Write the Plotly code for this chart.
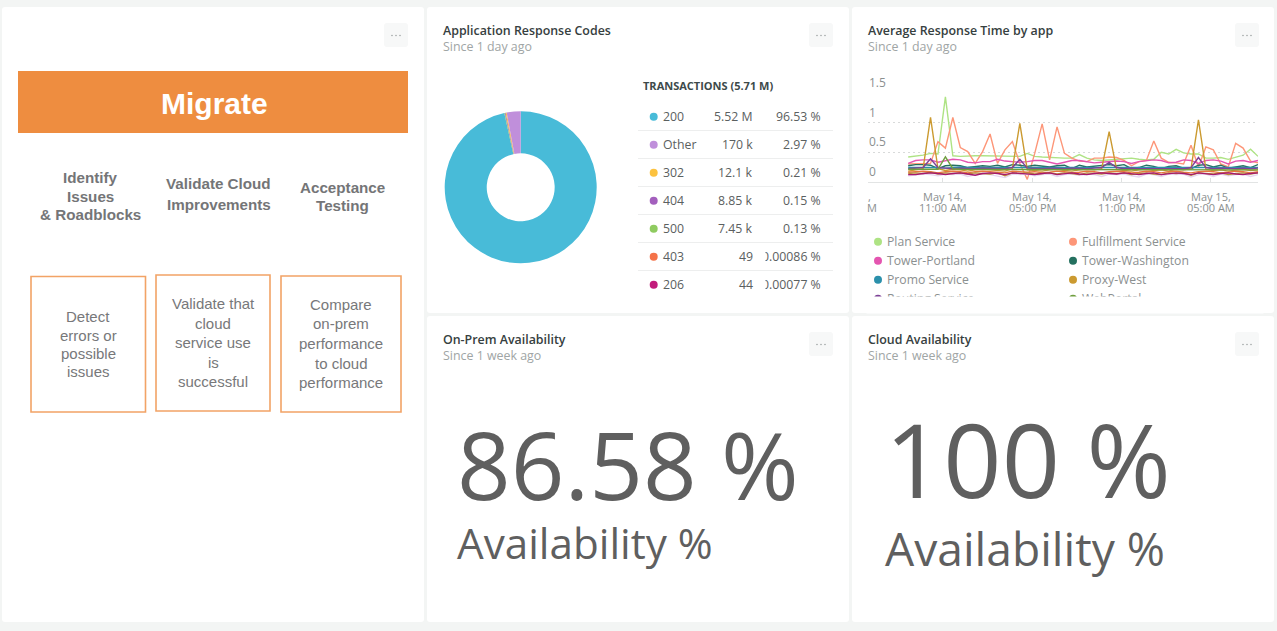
import pandas as pd
import plotly.graph_objects as go

W, H = 1277, 631
PAGE = "#f3f5f4"
FONT = "Open Sans"
HELV = "Liberation Sans"

# ---- donut / table data
code_labels = ["200", "Other", "302", "404", "500", "403", "206"]
code_values = [5520000, 170000, 12100, 8850, 7450, 49, 44]
code_value_text = ["5.52 M", "170 k", "12.1 k", "8.85 k", "7.45 k", "49", "44"]
code_pct_text = ["96.53 %", "2.97 %", "0.21 %", "0.15 %", "0.13 %", "0.00086 %", "0.00077 %"]
code_colors = ["#48bbd8", "#c08fdb", "#fcc23f", "#a35fbd", "#8fcb60", "#f47249", "#c21c7b"]
pie_sequence = ["200", "206", "403", "500", "404", "302", "Other"]

# ---- line chart data
start_time = "2019-05-14 08:40"
n_points = 48
times = pd.date_range(start_time, periods=n_points, freq="30min")
tick_times = ["2019-05-14 11:00", "2019-05-14 17:00", "2019-05-14 23:00", "2019-05-15 05:00"]
tick_line1 = ["May 14,", "May 14,", "May 14,", "May 15,"]
tick_line2 = ["11:00 AM", "05:00 PM", "11:00 PM", "05:00 AM"]

plan = [.42,.43,.45,.48,.47,1.44,.44,.43,.44,.44,.44,.44,.43,.43,.43,.43,.48,.43,.42,.41,.41,.40,.40,.46,
        .40,.37,.36,.37,.38,.39,.40,.38,.37,.38,.50,.47,.55,.49,.47,.47,.40,.40,.41,.38,.41,.45,.55,.43]
fulfillment = [.30,.30,.30,.31,.68,.57,1.09,.58,.51,.31,.51,.81,.31,.54,.68,.31,.04,.48,.98,.37,.93,.48,.40,.35,
               .34,.40,.40,.42,.41,.36,.27,.34,.36,.69,.40,.33,.32,.30,.62,.25,.59,.54,.30,.25,.65,.57,.35,.32]
portland = [.31,.36,.37,.37,.33,.36,.38,.37,.33,.32,.34,.34,.38,.35,.34,.33,.34,.36,.36,.33,.30,.33,.36,.36,
            .34,.32,.33,.34,.35,.34,.31,.34,.35,.37,.36,.32,.33,.37,.36,.31,.36,.37,.35,.30,.35,.36,.33,.36]
washington = [.27,.29,.29,.28,.22,.27,.28,.27,.24,.25,.27,.26,.28,.25,.29,.28,.26,.28,.27,.25,.27,.28,.22,.28,
              .25,.26,.28,.29,.27,.29,.22,.24,.28,.26,.22,.26,.27,.23,.22,.28,.29,.25,.28,.23,.25,.27,.24,.29]
promo = [.24,.24,.25,.24,.24,.23,.24,.25,.24,.24,.23,.24,.24,.23,.24,.24,.23,.24,.23,.24,.24,.23,.24,.24,
         .23,.24,.23,.24,.24,.23,.24,.24,.23,.24,.24,.23,.24,.23,.24,.24,.23,.24,.24,.23,.24,.23,.24,.24]
proxy = [.18,.20,.22,1.09,.22,.19,.21,.20,.18,.20,.21,.20,.19,.18,.22,.99,.20,.19,.18,.20,.21,.19,.18,.20,
         .21,.20,.22,.85,.21,.19,.18,.20,.21,.19,.20,.18,.21,.20,.22,1.05,.21,.19,.20,.18,.20,.21,.19,.20]
routing = [.22,.23,.24,.39,.24,.23,.22,.23,.22,.22,.23,.23,.22,.22,.24,.38,.23,.22,.22,.23,.22,.22,.23,.22,
           .22,.23,.24,.33,.24,.22,.23,.22,.22,.23,.22,.22,.23,.22,.24,.41,.24,.22,.23,.22,.22,.23,.22,.23]
webportal = [.21,.21,.21,.20,.21,.42,.22,.21,.21,.20,.21,.21,.20,.21,.21,.20,.21,.20,.21,.21,.20,.21,.21,.20,
             .21,.20,.21,.21,.20,.21,.21,.20,.21,.21,.20,.21,.20,.21,.21,.20,.21,.21,.20,.21,.20,.21,.21,.20]
extra_orange = [.16,.17,.18,.17,.15,.17,.18,.17,.15,.17,.18,.17,.16,.15,.18,.17,.16,.17,.15,.16,.18,.17,.15,.16,
                .18,.17,.15,.17,.18,.17,.15,.16,.18,.17,.15,.17,.18,.16,.15,.17,.18,.17,.15,.16,.18,.17,.15,.17]
extra_tan = [.14,.15,.14,.16,.13,.15,.14,.15,.13,.15,.14,.13,.15,.10,.15,.14,.15,.13,.14,.15,.13,.15,.14,.12,
             .15,.14,.13,.15,.14,.15,.12,.14,.15,.13,.12,.15,.14,.15,.11,.15,.14,.13,.15,.12,.14,.15,.13,.15]
extra_lilac = [.10,.12,.13,.12,.10,.13,.12,.13,.09,.12,.13,.12,.10,.07,.13,.12,.13,.10,.12,.13,.09,.12,.13,.11,
               .13,.12,.09,.13,.12,.13,.10,.08,.13,.12,.09,.13,.12,.13,.08,.12,.13,.09,.13,.10,.12,.13,.09,.12]
extra_magenta = [.12,.12,.14,.15,.14,.12,.14,.15,.13,.11,.14,.15,.14,.12,.15,.14,.13,.12,.14,.15,.12,.14,.15,.13,
                 .12,.14,.15,.14,.13,.15,.14,.12,.14,.15,.12,.14,.15,.14,.12,.15,.14,.12,.14,.15,.13,.12,.14,.15]

series_names = ["Plan Service", "Fulfillment Service", "Tower-Portland", "Tower-Washington", "Promo Service",
                "Proxy-West", "Routing Service", "WebPortal"]
series_values = [plan, fulfillment, portland, washington, promo, proxy, routing, webportal]
series_colors = ["#aee384", "#fd9678", "#e455b0", "#24705f", "#2b90ab", "#cb9a30", "#7d4296", "#6f9e3f"]
extra_values = [extra_lilac, extra_orange, extra_tan, extra_magenta]
extra_colors = ["#e6d6ee", "#e8763f", "#b98a3a", "#a6186e"]

y_tick_vals = [0, 0.5, 1, 1.5]
y_tick_text = ["0", "0.5", "1", "1.5"]

# ---- text data
panel_titles = [("Application Response Codes", "Since 1 day ago", 441.5, 30.5),
                ("Average Response Time by app", "Since 1 day ago", 866.5, 30.5),
                ("On-Prem Availability", "Since 1 week ago", 441.5, 339.5),
                ("Cloud Availability", "Since 1 week ago", 866.5, 339.5)]
headers = [("Identify", 90, 178), ("Issues", 90, 196), ("& Roadblocks", 90, 214),
           ("Validate Cloud", 218.5, 184), ("Improvements", 218.5, 204),
           ("Acceptance", 342.5, 187), ("Testing", 342.5, 205)]
box_lines = [("Detect", 88, 316), ("errors or", 88, 335), ("possible", 88, 353), ("issues", 88, 371),
             ("Validate that", 213, 303), ("cloud", 213, 323), ("service use", 213, 342), ("is", 213, 362),
             ("successful", 213, 381),
             ("Compare", 341, 304), ("on-prem", 341, 324), ("performance", 341, 343), ("to cloud", 341, 363),
             ("performance", 341, 382)]


def fx(x):
    return x / W


def fy(y):
    return 1 - y / H


def rrect(x0, y0, x1, y1, r):
    a, b, c, d = fx(x0), fx(x1), fy(y0), fy(y1)
    rx, ry = r / W, r / H
    return (f"M{a+rx},{c} L{b-rx},{c} Q{b},{c} {b},{c-ry} L{b},{d+ry} Q{b},{d} {b-rx},{d} "
            f"L{a+rx},{d} Q{a},{d} {a},{d+ry} L{a},{c-ry} Q{a},{c} {a+rx},{c} Z")


shapes, ann = [], []


def card(x0, y0, x1, y1):
    shapes.append(dict(type="path", path=rrect(x0, y0, x1, y1, 3), xref="paper", yref="paper",
                       fillcolor="white", line_width=0, layer="below"))


def text(t, x, y, size, color, anchor="left", family=FONT, weight=None, **kw):
    f = dict(family=family, size=size, color=color)
    if weight:
        f["weight"] = weight
    ann.append(dict(text=t, x=fx(x), y=fy(y), xref="paper", yref="paper", xanchor=anchor, yanchor="middle",
                    showarrow=False, font=f, borderpad=0, **kw))


def dot(x, y, r, color):
    shapes.append(dict(type="circle", xref="paper", yref="paper", x0=fx(x - r), x1=fx(x + r),
                       y0=fy(y + r), y1=fy(y - r), fillcolor=color, line_width=0))


def rect(x0, y0, x1, y1, fill=None, line=None, lw=0):
    shapes.append(dict(type="rect", xref="paper", yref="paper", x0=fx(x0), x1=fx(x1), y0=fy(y1), y1=fy(y0),
                       fillcolor=fill or "rgba(0,0,0,0)", line=dict(color=line or "rgba(0,0,0,0)", width=lw)))


def cover(x0, y0, x1, y1):
    ann.append(dict(text=" ", x=fx(x0), y=fy(y0), xref="paper", yref="paper", xanchor="left", yanchor="top",
                    width=x1 - x0, height=y1 - y0, bgcolor="white", showarrow=False, borderpad=0,
                    font=dict(size=1)))


# cards
for c in [(2, 7, 424, 622), (427, 7, 849, 313), (852, 7, 1274, 313), (427, 316, 849, 622), (852, 316, 1274, 622)]:
    card(*c)

# menu buttons
for bx, by in [(384, 23), (809, 23), (1235, 23), (809, 332), (1235, 332)]:
    shapes.append(dict(type="path", path=rrect(bx, by, bx + 24, by + 24, 3), xref="paper", yref="paper",
                       fillcolor="#f7f8f8", line_width=0))
    for k in (-4, 0, 4):
        dot(bx + 12 + k, by + 12.5, 0.7, "#8f9595")

# headings
for title, sub, x, y in panel_titles:
    text(title, x, y, 12.4, "#364040", weight=600)
    text(sub, x, y + 16, 12.4, "#a0a5a5")

# left image panel
rect(18, 71, 408, 133, fill="#ee8d40")
text("Migrate", 214, 103, 30, "white", "center", HELV, weight=700)
for t, x, y in headers:
    text(t, x, y, 15.2, "#747577", "center", HELV, weight=700)
for x0, y0, x1, y1 in [(31, 276.5, 145.5, 412), (156, 275, 270, 411), (281, 276, 401, 412)]:
    rect(x0, y0, x1, y1, line="#f2a366", lw=1.6)
for t, x, y in box_lines:
    text(t, x, y, 15, "#77787a", "center", HELV)

# table
text("TRANSACTIONS (5.71 M)", 641.5, 85.2, 11, "#3d4a4a", weight=700)
row_y0, row_step = 116.7, 28
for i, lab in enumerate(code_labels):
    y = row_y0 + i * row_step
    dot(653.7, y, 4, code_colors[i])
    text(lab, 661.5, y, 12.3, "#5b6060")
    text(code_value_text[i], 753.5, y, 12.3, "#5b6060", "right")
    text(code_pct_text[i], 821.5, y, 12.3, "#5b6060", "right")
    if i < len(code_labels) - 1:
        rect(638, y + 13.7, 833, y + 14.3, fill="#dcdede")
    if i >= 5:
        cover(755, y - 10, 764, y + 10)

# legend of the line chart
leg_rows = [241.7, 260.7, 279.7, 298.7]
for i, name in enumerate(series_names):
    col = i % 2
    y = leg_rows[i // 2]
    dot(878 + col * 195, y, 4, series_colors[i])
    text(name, 885.5 + col * 195, y, 12.2, "#8b9090")
cover(866, 296, 1262, 312)

# big numbers
text("86.58 %", 456, 463.5, 94, "#5f5f5f")
text("Availability %", 456, 542, 42.2, "#5f5f5f")
text("100 %", 884, 458, 102, "#5f5f5f")
text("Availability %", 883.5, 548, 46.2, "#5f5f5f")

# line chart tick labels (two lines, tight leading)
for i, t in enumerate(tick_times):
    for line, yy in ((tick_line1[i], 196), (tick_line2[i], 207)):
        ann.append(dict(text=line, x=t, y=fy(yy), xref="x", yref="paper", xanchor="center", yanchor="middle",
                        showarrow=False, font=dict(family=FONT, size=11, color="#8b9090")))
text(",", 867, 196, 11, "#8b9090")
text("M", 866, 207, 11, "#8b9090")
for v, t in zip(y_tick_vals, y_tick_text):
    ann.append(dict(text=t, x=fx(867), y=v, xref="paper", yref="y", xanchor="left", yanchor="middle", yshift=10.5,
                    showarrow=False, font=dict(family=FONT, size=12, color="#8b9090")))

fig = go.Figure()

lookup = dict(zip(code_labels, zip(code_values, code_colors)))
fig.add_trace(go.Pie(labels=pie_sequence, values=[lookup[k][0] for k in pie_sequence], sort=False,
                     direction="clockwise", rotation=0, hole=0.447, textinfo="none", showlegend=False,
                     marker=dict(colors=[lookup[k][1] for k in pie_sequence], line=dict(color="white", width=0)),
                     domain=dict(x=[fx(444.7), fx(596.7)], y=[fy(263.3), fy(111.3)])))

for name, vals, col in zip(series_names, series_values, series_colors):
    fig.add_trace(go.Scatter(x=times, y=vals, mode="lines", name=name, showlegend=False,
                             line=dict(color=col, width=1.4), xaxis="x", yaxis="y"))
for j, (vals, col) in enumerate(zip(extra_values, extra_colors)):
    fig.add_trace(go.Scatter(x=times, y=vals, mode="lines", name=f"App {j + 9}", showlegend=False,
                             line=dict(color=col, width=1.4), xaxis="x", yaxis="y"))

fig.update_layout(
    width=W, height=H, margin=dict(l=0, r=0, t=0, b=0), paper_bgcolor=PAGE, plot_bgcolor="rgba(0,0,0,0)",
    shapes=shapes, annotations=ann, showlegend=False, font=dict(family=FONT),
    xaxis=dict(domain=[fx(868), fx(1258)], range=["2019-05-14 05:58", "2019-05-15 08:10"], type="date",
               tickvals=tick_times, showticklabels=False, ticks="inside", ticklen=4, tickcolor="#dfe1e1",
               showgrid=False, zeroline=False, showline=True, linecolor="#e2e4e4", linewidth=1, fixedrange=True),
    yaxis=dict(domain=[fy(181.7), fy(93.3)], range=[0, 1.5], tickvals=y_tick_vals, showticklabels=False,
               showgrid=True, gridcolor="#d8dada", griddash="2px,3px", gridwidth=1, zeroline=False,
               showline=False, ticks="", fixedrange=True),
)

fig.write_html("out.html", config=dict(displayModeBar=False),
               post_script="document.body.style.margin='0';document.body.style.overflow='hidden';"
                           "document.body.style.background='" + PAGE + "';")
